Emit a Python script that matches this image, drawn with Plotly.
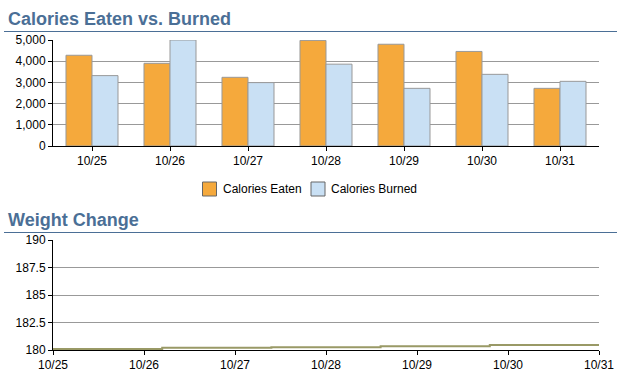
import plotly.graph_objects as go

# ---- data ----
days = ["10/25", "10/26", "10/27", "10/28", "10/29", "10/30", "10/31"]
calories_eaten = [4280, 3900, 3240, 4980, 4800, 4460, 2720]
calories_burned = [3320, 5000, 2990, 3860, 2720, 3380, 3050]
series_names = ["Calories Eaten", "Calories Burned"]

weight_x = [0, 1.2, 2.4, 3.6, 4.8, 6.0]          # days since 10/25
weight_values = [180.1, 180.2, 180.25, 180.35, 180.45, 180.5]
weight_tickvals = [0, 1, 2, 3, 4, 5, 6]
weight_ticklabels = ["10/25", "10/26", "10/27", "10/28", "10/29", "10/30", "10/31"]
weight_yticks = [180, 182.5, 185, 187.5, 190]
weight_yticklabels = ["180", "182.5", "185", "187.5", "190"]

# ---- styles ----
W, H = 619, 385
ORANGE = "#F5A93C"
BLUE = "#C9E0F4"
OUTLINE = "#999999"
TITLE_C = "#4B6F96"
GRID = "#999999"
FONT = "Liberation Sans, Arial, sans-serif"

def py(px):  # pixel from top -> paper y
    return 1 - px / H

def pxx(px):
    return px / W

fig = go.Figure()
fig.add_trace(go.Bar(x=days, y=calories_eaten, name=series_names[0],
                     marker=dict(color=ORANGE, line=dict(color=OUTLINE, width=1)),
                     xaxis="x", yaxis="y", showlegend=False))
fig.add_trace(go.Bar(x=days, y=calories_burned, name=series_names[1],
                     marker=dict(color=BLUE, line=dict(color=OUTLINE, width=1)),
                     xaxis="x", yaxis="y", showlegend=False))
fig.add_trace(go.Scatter(x=weight_x, y=weight_values, mode="lines",
                         line=dict(color="#999966", width=2, shape="hv"),
                         xaxis="x2", yaxis="y2", showlegend=False))

axis_common = dict(showline=True, linecolor="black", linewidth=1, ticks="outside",
                   ticklen=4, tickcolor="black", tickfont=dict(size=12, color="black", family=FONT),
                   zeroline=False, automargin=False)

fig.update_layout(
    width=W, height=H, margin=dict(l=0, r=0, t=0, b=0, pad=0, autoexpand=False),
    showlegend=False,
    paper_bgcolor="white", plot_bgcolor="white",
    font=dict(family=FONT, size=12, color="black"),
    barmode="group", bargap=0.333, bargroupgap=0,
    xaxis=dict(domain=[pxx(53), pxx(599)], anchor="y", showgrid=False, **axis_common),
    yaxis=dict(domain=[py(146), py(40)], anchor="x", range=[0, 5000], dtick=1000,
               tickformat=",", showgrid=True, gridcolor=GRID, gridwidth=1, **axis_common),
    xaxis2=dict(domain=[pxx(53), pxx(599)], anchor="y2", range=[0, 6],
                tickvals=weight_tickvals, ticktext=weight_ticklabels, showgrid=False, **axis_common),
    yaxis2=dict(domain=[py(350), py(240)], anchor="x2", range=[180, 190],
                tickvals=weight_yticks, ticktext=weight_yticklabels,
                showgrid=True, gridcolor=GRID, gridwidth=1, **axis_common),
)

shapes = []
annotations = []
# section titles with rules
for title, ty, ry in [("Calories Eaten vs. Burned", 19, 31.5), ("Weight Change", 220, 232.5)]:
    annotations.append(dict(text=f"<b>{title}</b>", x=pxx(6), y=py(ty), xref="paper", yref="paper",
                            xanchor="left", yanchor="middle", showarrow=False,
                            font=dict(size=18, color=TITLE_C, family=FONT)))
    shapes.append(dict(type="line", xref="paper", yref="paper", x0=pxx(4), x1=pxx(617),
                       y0=py(ry), y1=py(ry), line=dict(color=TITLE_C, width=1)))

# legend
for name, color, x0 in [(series_names[0], ORANGE, 202.5), (series_names[1], BLUE, 311)]:
    shapes.append(dict(type="rect", xref="paper", yref="paper", x0=pxx(x0), x1=pxx(x0 + 14),
                       y0=py(196), y1=py(182), fillcolor=color, line=dict(color="#666666", width=1)))
    annotations.append(dict(text=name, x=pxx(x0 + 18), y=py(189), xref="paper", yref="paper",
                            xanchor="left", yanchor="middle", showarrow=False,
                            font=dict(size=12, color="black", family=FONT)))

fig.update_layout(shapes=shapes, annotations=annotations)
fig.write_html("out.html", config={"displayModeBar": False},
               post_script="document.body.style.margin='0';document.body.style.overflow='hidden';")
